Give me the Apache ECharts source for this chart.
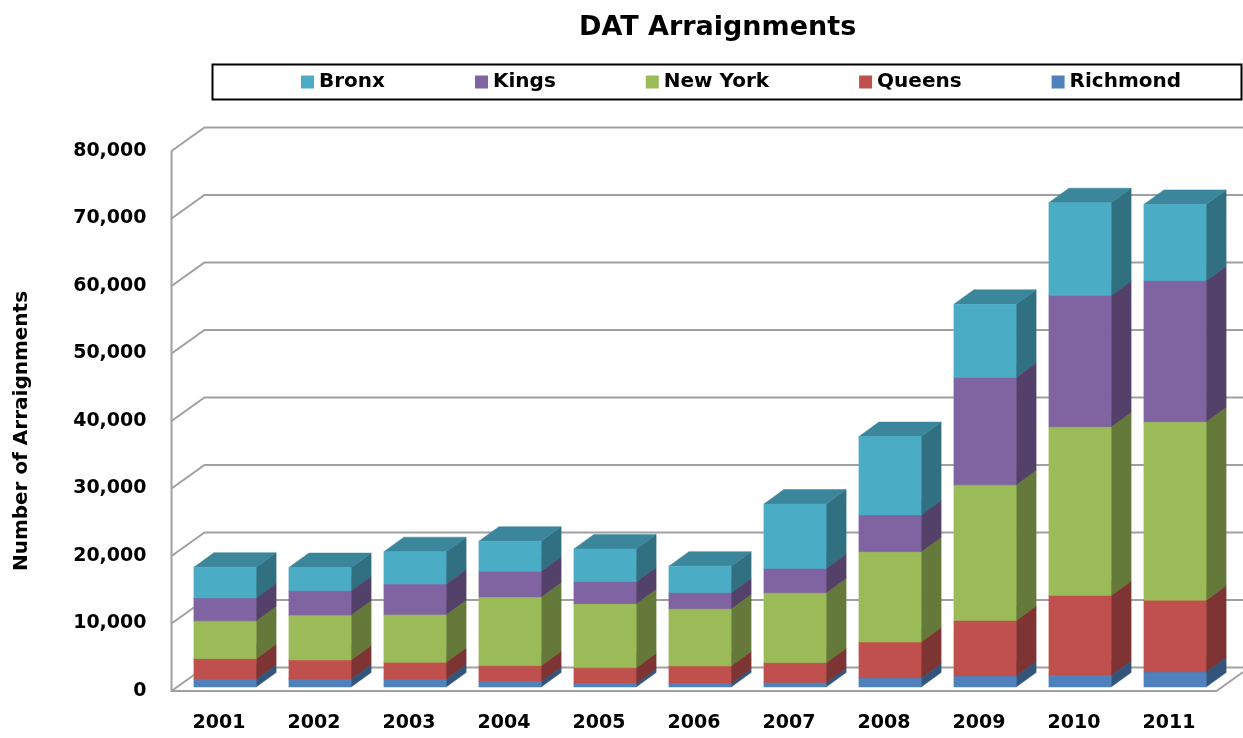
<!DOCTYPE html>
<html>
<head>
<meta charset="utf-8">
<script src="https://cdn.jsdelivr.net/npm/echarts@6/dist/echarts.min.js"></script>
<style>
html,body{margin:0;padding:0;background:#fff;}
#chart{width:1243px;height:738px;}
</style>
</head>
<body>
<div id="chart"></div>
<script>
// ---- data ----
const years = ['2001','2002','2003','2004','2005','2006','2007','2008','2009','2010','2011'];
const richmond = [1200,1200,1200,850,550,550,650,1350,1650,1750,2250];
const queens   = [3000,2800,2450,2300,2300,2550,2950,5300,8200,11800,10600];
const newYork  = [5600,6650,7100,10200,9500,8500,10350,13400,20100,25000,26450];
const kings    = [3400,3600,4500,3800,3250,2350,3600,5450,15900,19450,20900];
const bronx    = [4550,3450,4800,4450,4850,3950,9550,11600,10850,13750,11300];
const yTicks   = [0,10000,20000,30000,40000,50000,60000,70000,80000];
const legendNames = ['Bronx','Kings','New York','Queens','Richmond'];

// ---- styling ----
const FONT = 'DejaVu Sans';
const WALL_DX = 33, WALL_DY = -23.5;   // depth of the floor
const BAR_OX = 6, BAR_OY = -4;         // bars set back from the front plane
const BAR_DX = 20, BAR_DY = -14.5;     // bar depth
const GRID_COLOR = '#a0a0a0';

function shade(hex, k){
  const n = parseInt(hex.slice(1),16);
  const r = Math.round(((n>>16)&255)*k), g = Math.round(((n>>8)&255)*k), b = Math.round((n&255)*k);
  return 'rgb('+r+','+g+','+b+')';
}

// stack order bottom -> top
const stackDefs = [
  {name:'Richmond', values: richmond, color:'#4F81BD'},
  {name:'Queens',   values: queens,   color:'#C0504D'},
  {name:'New York', values: newYork,  color:'#9BBB59'},
  {name:'Kings',    values: kings,    color:'#8064A2'},
  {name:'Bronx',    values: bronx,    color:'#4BACC6'}
];

const cum = years.map(() => 0);
const barSeries = stackDefs.map((def, si) => {
  const data = def.values.map((v, i) => {
    const base = cum[i];
    cum[i] += v;
    return [i, base, cum[i]];
  });
  const front = def.color, side = shade(def.color, 0.65), top = shade(def.color, 0.78);
  return {
    type: 'custom',
    name: def.name,
    z: 10 + si,
    itemStyle: {color: front},
    encode: {x: 0, y: [1, 2]},
    data: data,
    renderItem: function(params, api){
      const c0 = api.coord([api.value(0), api.value(1)]);
      const c1 = api.coord([api.value(0), api.value(2)]);
      const bw = api.size([1, 0])[0] * 0.655;
      const x0 = c0[0] + BAR_OX - bw / 2, x1 = x0 + bw;
      const yb = c0[1] + BAR_OY, yt = c1[1] + BAR_OY;
      return {
        type: 'group',
        children: [
          {type:'polygon', shape:{points:[[x1,yb],[x1+BAR_DX,yb+BAR_DY],[x1+BAR_DX,yt+BAR_DY],[x1,yt]]},
            style:{fill: side, stroke: side, lineWidth: 0.5}},
          {type:'polygon', shape:{points:[[x0,yt],[x1,yt],[x1+BAR_DX,yt+BAR_DY],[x0+BAR_DX,yt+BAR_DY]]},
            style:{fill: top, stroke: top, lineWidth: 0.5}},
          {type:'rect', shape:{x:x0, y:yt, width:bw, height:yb-yt},
            style:{fill: front, stroke: front, lineWidth: 0.5}}
        ]
      };
    }
  };
});

const wallSeries = {
  type: 'custom',
  name: 'walls',
  z: 1,
  silent: true,
  encode: {x: 0, y: 1},
  data: yTicks.map(v => [0, v]),
  renderItem: function(params, api){
    const cs = params.coordSys;
    const L = cs.x, R = cs.x + cs.width;
    const y = api.coord([0, api.value(1)])[1];
    const st = {stroke: GRID_COLOR, lineWidth: 2, fill: null};
    const children = [
      {type:'polyline', shape:{points:[[L,y],[L+WALL_DX,y+WALL_DY],[1300,y+WALL_DY]]}, style: st}
    ];
    if (api.value(1) === 0) {
      children.push({type:'polyline', shape:{points:[[L,cs.y],[L,y],[R,y],[R+WALL_DX,y+WALL_DY]]}, style: st});
    }
    return {type:'group', children: children};
  }
};

const chart = echarts.init(document.getElementById('chart'), null, {renderer:'canvas'});
chart.setOption({
  backgroundColor: '#fff',
  animation: false,
  title: {
    text: 'DAT Arraignments',
    left: 574, top: 9,
    textStyle: {fontFamily: FONT, fontSize: 27, fontWeight: 'bold', color: '#000'}
  },
  graphic: [{
    type: 'rect', left: 210, top: 62, z: 0,
    shape: {width: 1029, height: 35},
    style: {fill: null, stroke: '#000', lineWidth: 2}
  }],
  legend: {
    data: legendNames,
    left: 301, top: 72, padding: 0,
    icon: 'rect', itemWidth: 13, itemHeight: 13, itemGap: 90,
    textStyle: {fontFamily: FONT, fontSize: 20, fontWeight: 'bold', color: '#000'}
  },
  grid: {left: 171.5, right: 26.5, top: 151, bottom: 47, containLabel: false},
  xAxis: {
    type: 'category',
    data: years,
    axisLine: {show: false}, axisTick: {show: false}, splitLine: {show: false},
    axisLabel: {margin: 23, fontFamily: FONT, fontSize: 19, fontWeight: 'bold', color: '#000'}
  },
  yAxis: {
    type: 'value',
    min: 0, max: 80000, interval: 10000,
    axisLine: {show: false}, axisTick: {show: false}, splitLine: {show: false},
    axisLabel: {
      margin: 25, fontFamily: FONT, fontSize: 19, fontWeight: 'bold', color: '#000',
      formatter: v => v.toString().replace(/\B(?=(\d{3})+(?!\d))/g, ',')
    },
    name: 'Number of Arraignments',
    nameLocation: 'middle', nameRotate: 90, nameGap: 140,
    nameTextStyle: {fontFamily: FONT, fontSize: 20, fontWeight: 'bold', color: '#000', padding: [0, 20, 0, 0]}
  },
  series: [wallSeries].concat(barSeries)
});
</script>
</body>
</html>
